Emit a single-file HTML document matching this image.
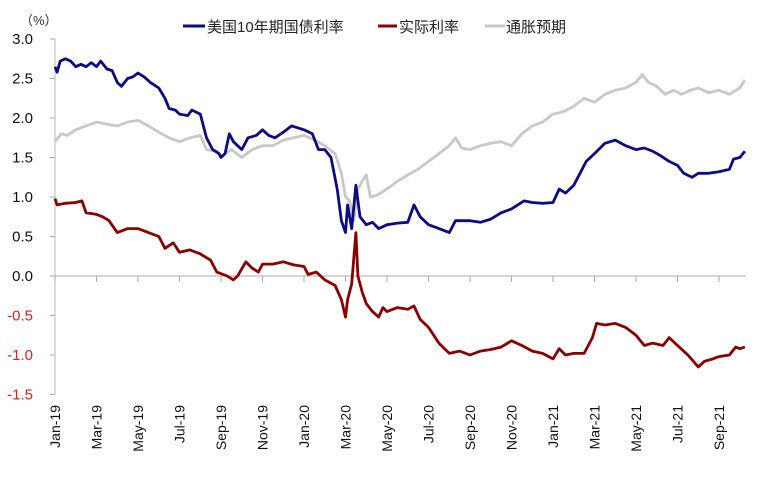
<!DOCTYPE html>
<html><head><meta charset="utf-8"><style>
body{margin:0;background:#fff;}
svg text{font-family:"Liberation Sans","Noto Sans CJK SC",sans-serif;}
</style></head><body>
<svg id="chart" width="760" height="475" viewBox="0 0 760 475" xmlns="http://www.w3.org/2000/svg">
<text x="20" y="25" font-size="13" fill="#333">（%）</text>
<g>
<line x1="183" y1="26" x2="205" y2="26" stroke="#0b0b85" stroke-width="3"/>
<text x="207" y="32" font-size="15" fill="#222">美国10年期国债利率</text>
<line x1="378" y1="26" x2="397" y2="26" stroke="#8b0000" stroke-width="3"/>
<text x="399" y="32" font-size="15" fill="#222">实际利率</text>
<line x1="485" y1="26" x2="505" y2="26" stroke="#c8c8c8" stroke-width="3"/>
<text x="506" y="32" font-size="15" fill="#222">通胀预期</text>
</g>
<g id="axes"></g>
<g id="series"></g>
</svg>
<script>
const yTicks=[3.0,2.5,2.0,1.5,1.0,0.5,0.0,-0.5,-1.0,-1.5];
const xLabels=["Jan-19","Mar-19","May-19","Jul-19","Sep-19","Nov-19","Jan-20","Mar-20","May-20","Jul-20","Sep-20","Nov-20","Jan-21","Mar-21","May-21","Jul-21","Sep-21"];
const tenYM=[0,0.1,0.25,0.5,0.75,1.0,1.25,1.5,1.75,2.0,2.2,2.5,2.75,3.0,3.2,3.5,3.75,4.0,4.3,4.6,5.0,5.3,5.5,5.8,6.0,6.4,6.6,7.0,7.3,7.6,7.9,8.0,8.2,8.4,8.6,9.0,9.3,9.7,10.0,10.3,10.6,11.0,11.4,12.0,12.4,12.7,13.0,13.3,13.6,13.8,14.0,14.1,14.3,14.5,14.7,15.0,15.3,15.6,16.0,16.5,17.0,17.3,17.6,18.0,18.5,19.0,19.3,19.6,20.0,20.5,21.0,21.5,22.0,22.3,22.6,23.0,23.5,24.0,24.3,24.6,25.0,25.3,25.6,26.0,26.5,27.0,27.5,28.0,28.4,28.8,29.2,29.6,30.0,30.3,30.7,31.0,31.5,32.0,32.5,32.7,33.0,33.25];
const tenY=[2.65,2.58,2.72,2.75,2.72,2.65,2.68,2.65,2.7,2.65,2.72,2.62,2.6,2.45,2.4,2.5,2.52,2.57,2.52,2.45,2.38,2.25,2.12,2.1,2.05,2.03,2.1,2.05,1.75,1.6,1.55,1.5,1.55,1.8,1.7,1.6,1.75,1.78,1.85,1.78,1.75,1.82,1.9,1.85,1.8,1.6,1.6,1.5,1.1,0.7,0.55,0.9,0.6,1.15,0.75,0.65,0.68,0.6,0.65,0.67,0.68,0.9,0.75,0.65,0.6,0.55,0.7,0.7,0.7,0.68,0.72,0.8,0.85,0.9,0.95,0.93,0.92,0.93,1.1,1.05,1.15,1.3,1.45,1.55,1.68,1.72,1.65,1.6,1.62,1.58,1.52,1.45,1.4,1.3,1.25,1.3,1.3,1.32,1.35,1.48,1.5,1.58];
const realM=[0,0.1,0.5,1.0,1.3,1.5,2.0,2.3,2.6,3.0,3.5,4.0,4.5,5.0,5.3,5.7,6.0,6.5,7.0,7.5,7.8,8.3,8.6,8.8,9.2,9.5,9.8,10.0,10.5,11.0,11.5,12.0,12.2,12.6,13.0,13.5,13.8,14.0,14.1,14.3,14.5,14.6,14.8,15.0,15.3,15.6,15.8,16.0,16.5,17.0,17.3,17.6,18.0,18.5,19.0,19.5,20.0,20.5,21.0,21.5,22.0,22.5,23.0,23.5,24.0,24.3,24.6,25.0,25.5,25.9,26.1,26.5,27.0,27.5,28.0,28.4,28.8,29.3,29.6,30.0,30.5,31.0,31.3,31.7,32.0,32.5,32.8,33.0,33.25];
const real=[0.98,0.9,0.92,0.93,0.95,0.8,0.78,0.75,0.7,0.55,0.6,0.6,0.55,0.5,0.35,0.42,0.3,0.33,0.28,0.2,0.05,0.0,-0.05,0.0,0.18,0.1,0.05,0.15,0.15,0.18,0.14,0.12,0.02,0.05,-0.05,-0.12,-0.3,-0.52,-0.3,-0.1,0.55,0.0,-0.2,-0.35,-0.45,-0.52,-0.4,-0.45,-0.4,-0.42,-0.38,-0.55,-0.65,-0.85,-0.98,-0.95,-1.0,-0.95,-0.93,-0.9,-0.82,-0.88,-0.95,-0.98,-1.05,-0.92,-1.0,-0.98,-0.98,-0.78,-0.6,-0.62,-0.6,-0.65,-0.75,-0.88,-0.85,-0.88,-0.78,-0.88,-1.0,-1.15,-1.08,-1.05,-1.02,-1.0,-0.9,-0.92,-0.9];
const beM=[0,0.3,0.6,1.0,1.5,2.0,2.5,3.0,3.5,4.0,4.5,5.0,5.5,6.0,6.5,7.0,7.3,7.8,8.0,8.5,9.0,9.5,10.0,10.5,11.0,11.5,12.0,12.5,13.0,13.5,13.8,14.0,14.2,14.4,14.6,14.8,15.0,15.2,15.5,16.0,16.5,17.0,17.5,18.0,18.5,19.0,19.3,19.6,20.0,20.5,21.0,21.5,22.0,22.5,23.0,23.5,24.0,24.5,25.0,25.5,26.0,26.5,27.0,27.5,28.0,28.3,28.6,29.0,29.4,29.8,30.2,30.6,31.0,31.5,32.0,32.5,33.0,33.25];
const be=[1.7,1.8,1.78,1.85,1.9,1.95,1.92,1.9,1.95,1.97,1.9,1.82,1.75,1.7,1.75,1.78,1.6,1.58,1.52,1.6,1.5,1.6,1.65,1.65,1.72,1.75,1.78,1.72,1.65,1.55,1.3,1.0,0.95,0.7,1.1,1.2,1.28,1.0,1.02,1.1,1.2,1.28,1.35,1.45,1.55,1.65,1.75,1.62,1.6,1.65,1.68,1.7,1.65,1.8,1.9,1.95,2.05,2.08,2.15,2.25,2.2,2.3,2.35,2.38,2.45,2.55,2.45,2.4,2.3,2.35,2.3,2.35,2.38,2.32,2.35,2.3,2.38,2.48];

const NS="http://www.w3.org/2000/svg";
const X0=55,PX_PER_M=20.75,Y0=276,PX_PER_U=79;
const xs=m=>X0+m*PX_PER_M;
const ys=v=>Y0-v*PX_PER_U;
const axes=document.getElementById('axes');
const ser=document.getElementById('series');
function mk(tag,attrs,parent){const e=document.createElementNS(NS,tag);for(const k in attrs)e.setAttribute(k,attrs[k]);parent.appendChild(e);return e;}

const ya=mk('line',{x1:X0,y1:ys(3),x2:X0,y2:ys(-1.5),stroke:'#bbb','stroke-width':1},axes);


const xa=mk('line',{x1:X0,y1:Y0,x2:746,y2:Y0,stroke:'#aaa','stroke-width':1},axes);


yTicks.forEach(v=>{
  const t=mk('line',{x1:X0-5,y1:ys(v),x2:X0,y2:ys(v),stroke:'#aaa'},axes);
  
  
  const l=mk('text',{x:33,y:ys(v)+5,'font-size':15,'text-anchor':'end',fill:v<0?'#e0201a':'#111'},axes);
  l.textContent=v.toFixed(1);
  
  
});
xLabels.forEach((s,i)=>{
  const x=xs(i*2);
  const t=mk('line',{x1:x,y1:Y0,x2:x,y2:Y0+6,stroke:'#aaa'},axes);
  
  
  const l=mk('text',{x:0,y:0,'font-size':14,'text-anchor':'end',fill:'#111',transform:`translate(${x+5},405) rotate(-90)`},axes);
  l.textContent=s;
  
  
});
function line(ms,vs,color,name){
  const d=ms.map((m,i)=>(i?'L':'M')+xs(m).toFixed(1)+','+ys(vs[i]).toFixed(1)).join('');
  const p=mk('path',{d:d,fill:'none',stroke:color,'stroke-width':2.8,'stroke-linejoin':'round'},ser);
  
  
}
line(beM,be,'#c8c8c8','breakeven-line');
line(tenYM,tenY,'#0b0b85','treasury-10y-line');
line(realM,real,'#8b0000','real-rate-line');
</script>
</body></html>
